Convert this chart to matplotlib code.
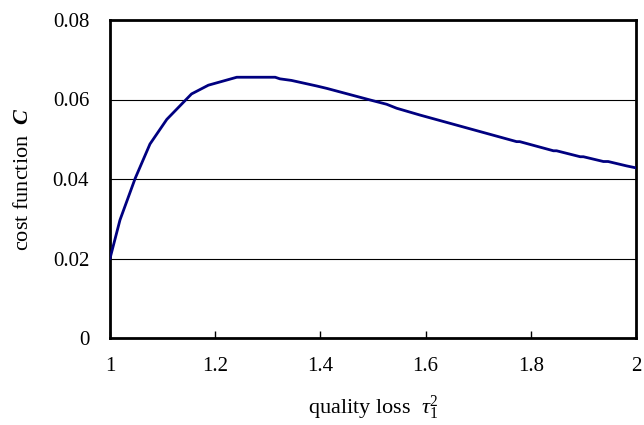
import matplotlib
matplotlib.use("Agg")
import matplotlib.pyplot as plt

# data
x_vals = [1.000, 1.019, 1.048, 1.076, 1.108, 1.155, 1.187, 1.241, 1.314, 1.323,
          1.345, 1.393, 1.412, 1.494, 1.526, 1.545, 1.589, 1.773, 1.779, 1.843,
          1.849, 1.894, 1.900, 1.938, 1.947, 1.982, 2.000]
c_vals = [0.0200, 0.0297, 0.0402, 0.0488, 0.0550, 0.0614, 0.0636, 0.0656, 0.0656, 0.0652,
          0.0648, 0.0634, 0.0628, 0.0599, 0.0588, 0.0578, 0.0561, 0.0494, 0.0494, 0.0471,
          0.0471, 0.0456, 0.0456, 0.0444, 0.0444, 0.0433, 0.0428]
x_ticks = [1, 1.2, 1.4, 1.6, 1.8, 2]
x_tick_labels = ["1", "1.2", "1.4", "1.6", "1.8", "2"]
y_ticks = [0, 0.02, 0.04, 0.06, 0.08]
y_tick_labels = ["0", "0.02", "0.04", "0.06", "0.08"]

plt.rcParams['font.family'] = ['Liberation Serif', 'DejaVu Serif']
plt.rcParams['mathtext.fontset'] = 'custom'
plt.rcParams['mathtext.rm'] = 'Liberation Serif'
plt.rcParams['mathtext.it'] = 'Liberation Serif:italic'
plt.rcParams['mathtext.bf'] = 'Liberation Serif:bold:italic'

fig = plt.figure(figsize=(6.44, 4.25), dpi=100)
ax = fig.add_axes([110/644, 1-338/425, 526/644, 318/425])

for yv in y_ticks[1:-1]:
    ax.axhline(yv, color='black', lw=0.8, zorder=1)

ax.plot(x_vals, c_vals, color='#000080', lw=2.0, zorder=3)

ax.set_xlim(1, 2)
ax.set_ylim(0, 0.08)
ax.set_xticks(x_ticks)
ax.set_xticklabels(x_tick_labels)
ax.set_yticks(y_ticks)
ax.set_yticklabels(y_tick_labels)
ax.tick_params(axis='x', direction='in', length=5, width=1, labelsize=15, pad=14)
ax.tick_params(axis='y', direction='in', length=0, labelsize=15, pad=15)
for s in ax.spines.values():
    s.set_linewidth(2)
    s.set_color('black')

ax.set_xlabel(r'quality loss  $\tau_1^2$', fontsize=16, labelpad=12)
ax.set_ylabel(r'cost function  $\mathbf{C}$', fontsize=16, labelpad=14)

fig.savefig('out.png', dpi=100)
